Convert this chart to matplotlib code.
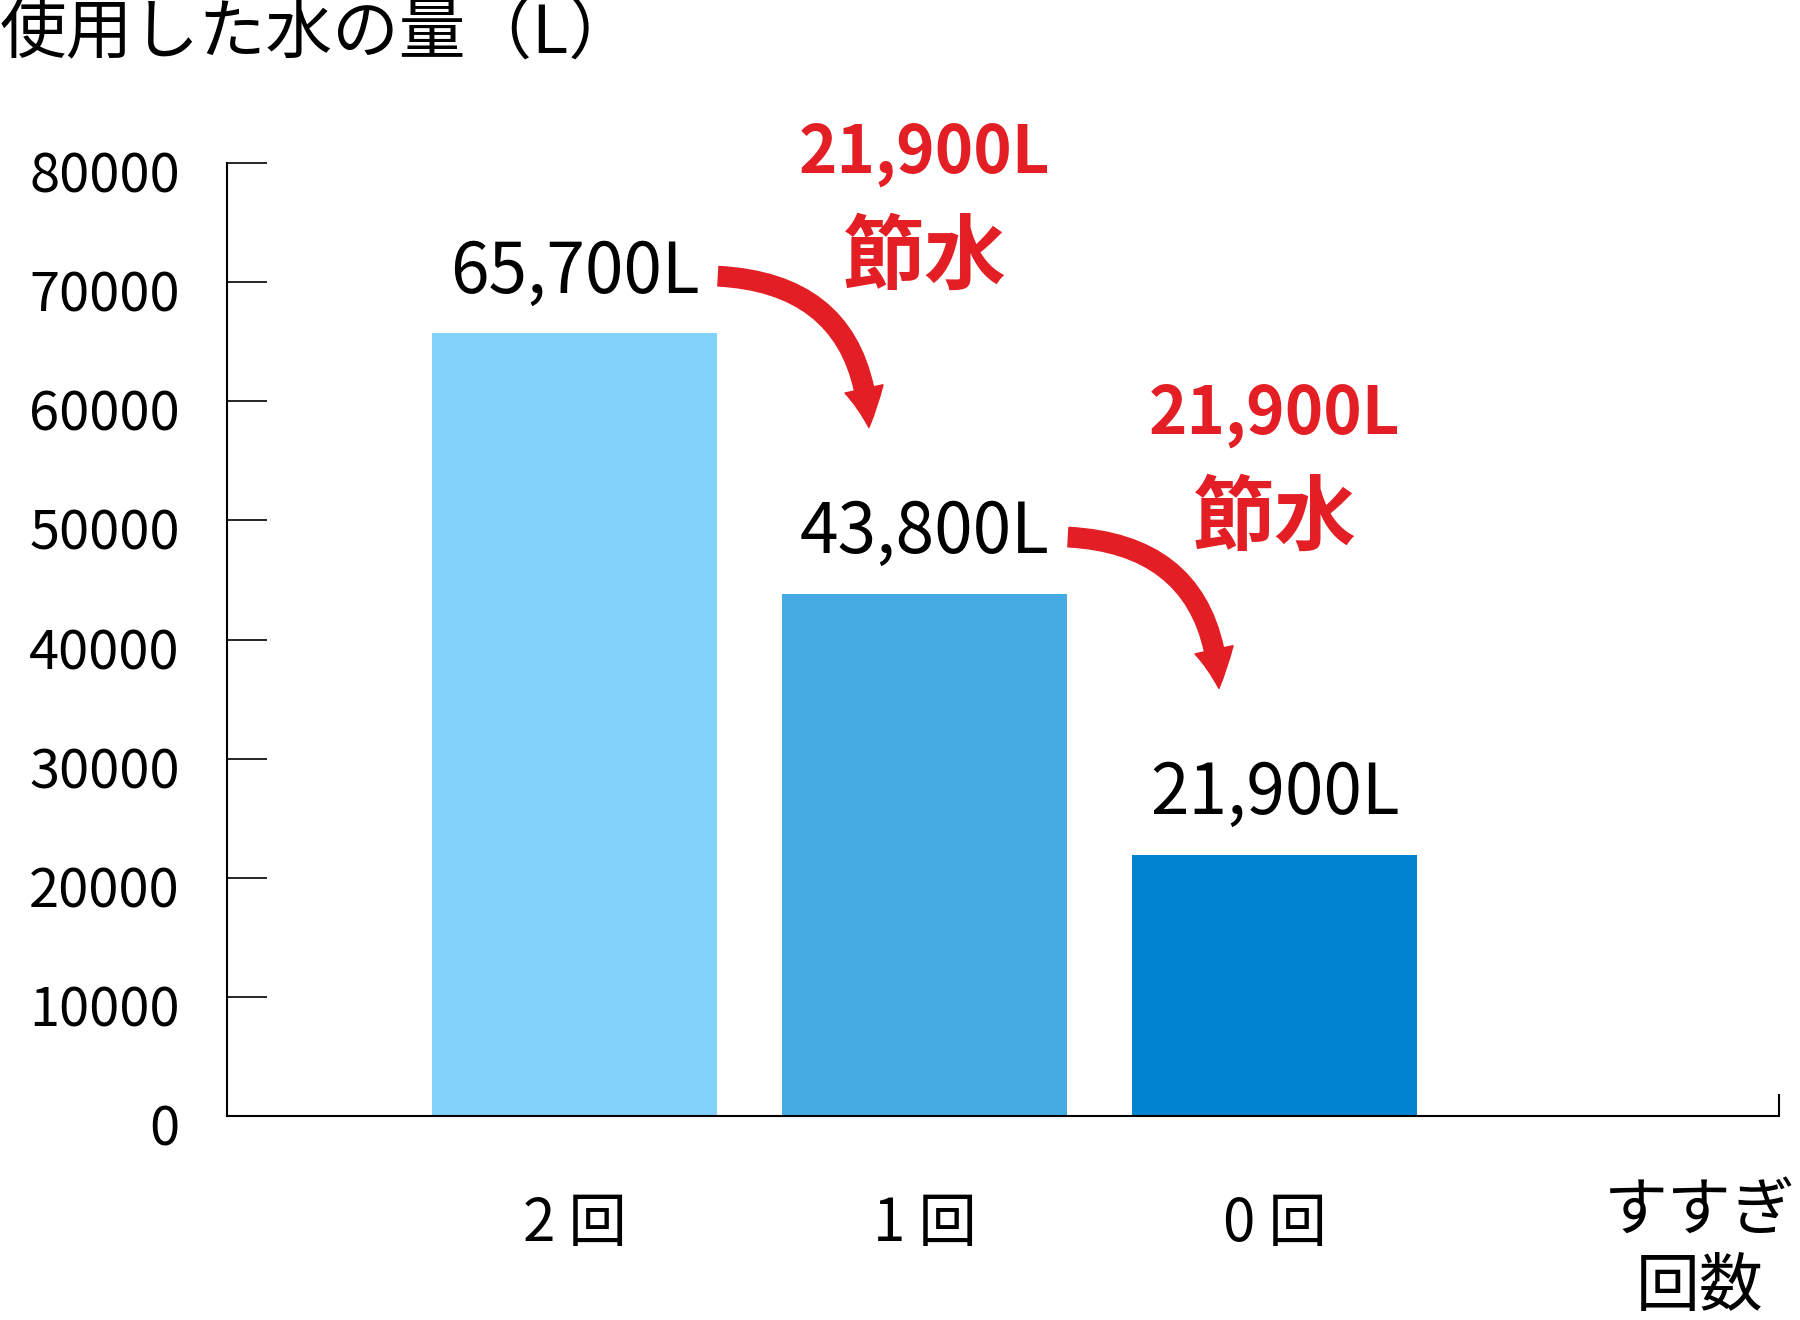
import matplotlib
matplotlib.use("Agg")
import matplotlib.pyplot as plt
from matplotlib.patches import FancyArrowPatch
from matplotlib.transforms import ScaledTranslation

plt.rcParams['font.family'] = ['Noto Sans CJK JP', 'DejaVu Sans']

# data
categories = ['2 回', '1 回', '0 回']
values = [65700, 43800, 21900]
bar_colors = ['#82D2FC', '#47ABE3', '#0084CF']
yticks = [0, 10000, 20000, 30000, 40000, 50000, 60000, 70000, 80000]
title = '使用した水の量（L）'
xlabel = 'すすぎ\n回数'
saving_word = '節水'
red = '#E31E24'

x = list(range(len(categories)))

fig = plt.figure(figsize=(18, 13.2), dpi=100)
ax = fig.add_axes([0.1261, 0.1545, 0.8622, 0.722])

ax.bar(x, values, width=0.814, color=bar_colors, zorder=1)

ax.set_xlim(-0.994, 3.44)
ax.set_ylim(0, 80000)

ax.spines['top'].set_visible(False)
ax.spines['right'].set_visible(False)
for s in ['left', 'bottom']:
    ax.spines[s].set_linewidth(1.5)
    ax.spines[s].set_zorder(3)

ax.set_yticks(yticks)
ax.set_yticklabels([str(t) for t in yticks])
ax.tick_params(axis='y', direction='in', length=29, width=1.2, pad=34, labelsize=39)
shift = ScaledTranslation(0, -0.08, fig.dpi_scale_trans)
for lab in ax.get_yticklabels():
    lab.set_transform(lab.get_transform() + shift)

ax.set_xticks(x)
ax.set_xticklabels(categories)
ax.tick_params(axis='x', which='major', length=0, pad=56, labelsize=42)
ax.set_xticks([3.44], minor=True)
ax.tick_params(axis='x', which='minor', direction='in', length=16, width=1.5)

# value labels
for xi, v in zip(x, values):
    ax.text(xi, v + 5100, f'{v:,}L', ha='center', va='center', fontsize=50)

# savings arrows + labels
for i in range(len(values) - 1):
    saving = values[i] - values[i + 1]
    ax.text(x[i + 1], values[i] + 15100, f'{saving:,}L', ha='center', va='center',
            fontsize=47, fontweight='bold', color=red, clip_on=False)
    ax.text(x[i + 1], values[i] + 6200, saving_word, ha='center', va='center',
            fontsize=59, fontweight='bold', color=red)
    arrow = FancyArrowPatch((x[i] + 0.41, values[i] + 4800),
                            (x[i] + 0.84, values[i + 1] + 14000),
                            connectionstyle='arc3,rad=-0.45',
                            arrowstyle='simple,head_length=28,head_width=28,tail_width=14',
                            mutation_scale=1, shrinkA=0, shrinkB=0,
                            color=red, zorder=4)
    ax.add_patch(arrow)

ax.text(0.949, -0.14, xlabel, transform=ax.transAxes, ha='center', va='center',
        fontsize=46, linespacing=1.2)

fig.text(0.0, 1.0, title, ha='left', va='top', fontsize=48)

fig.savefig('out.png', dpi=100)
